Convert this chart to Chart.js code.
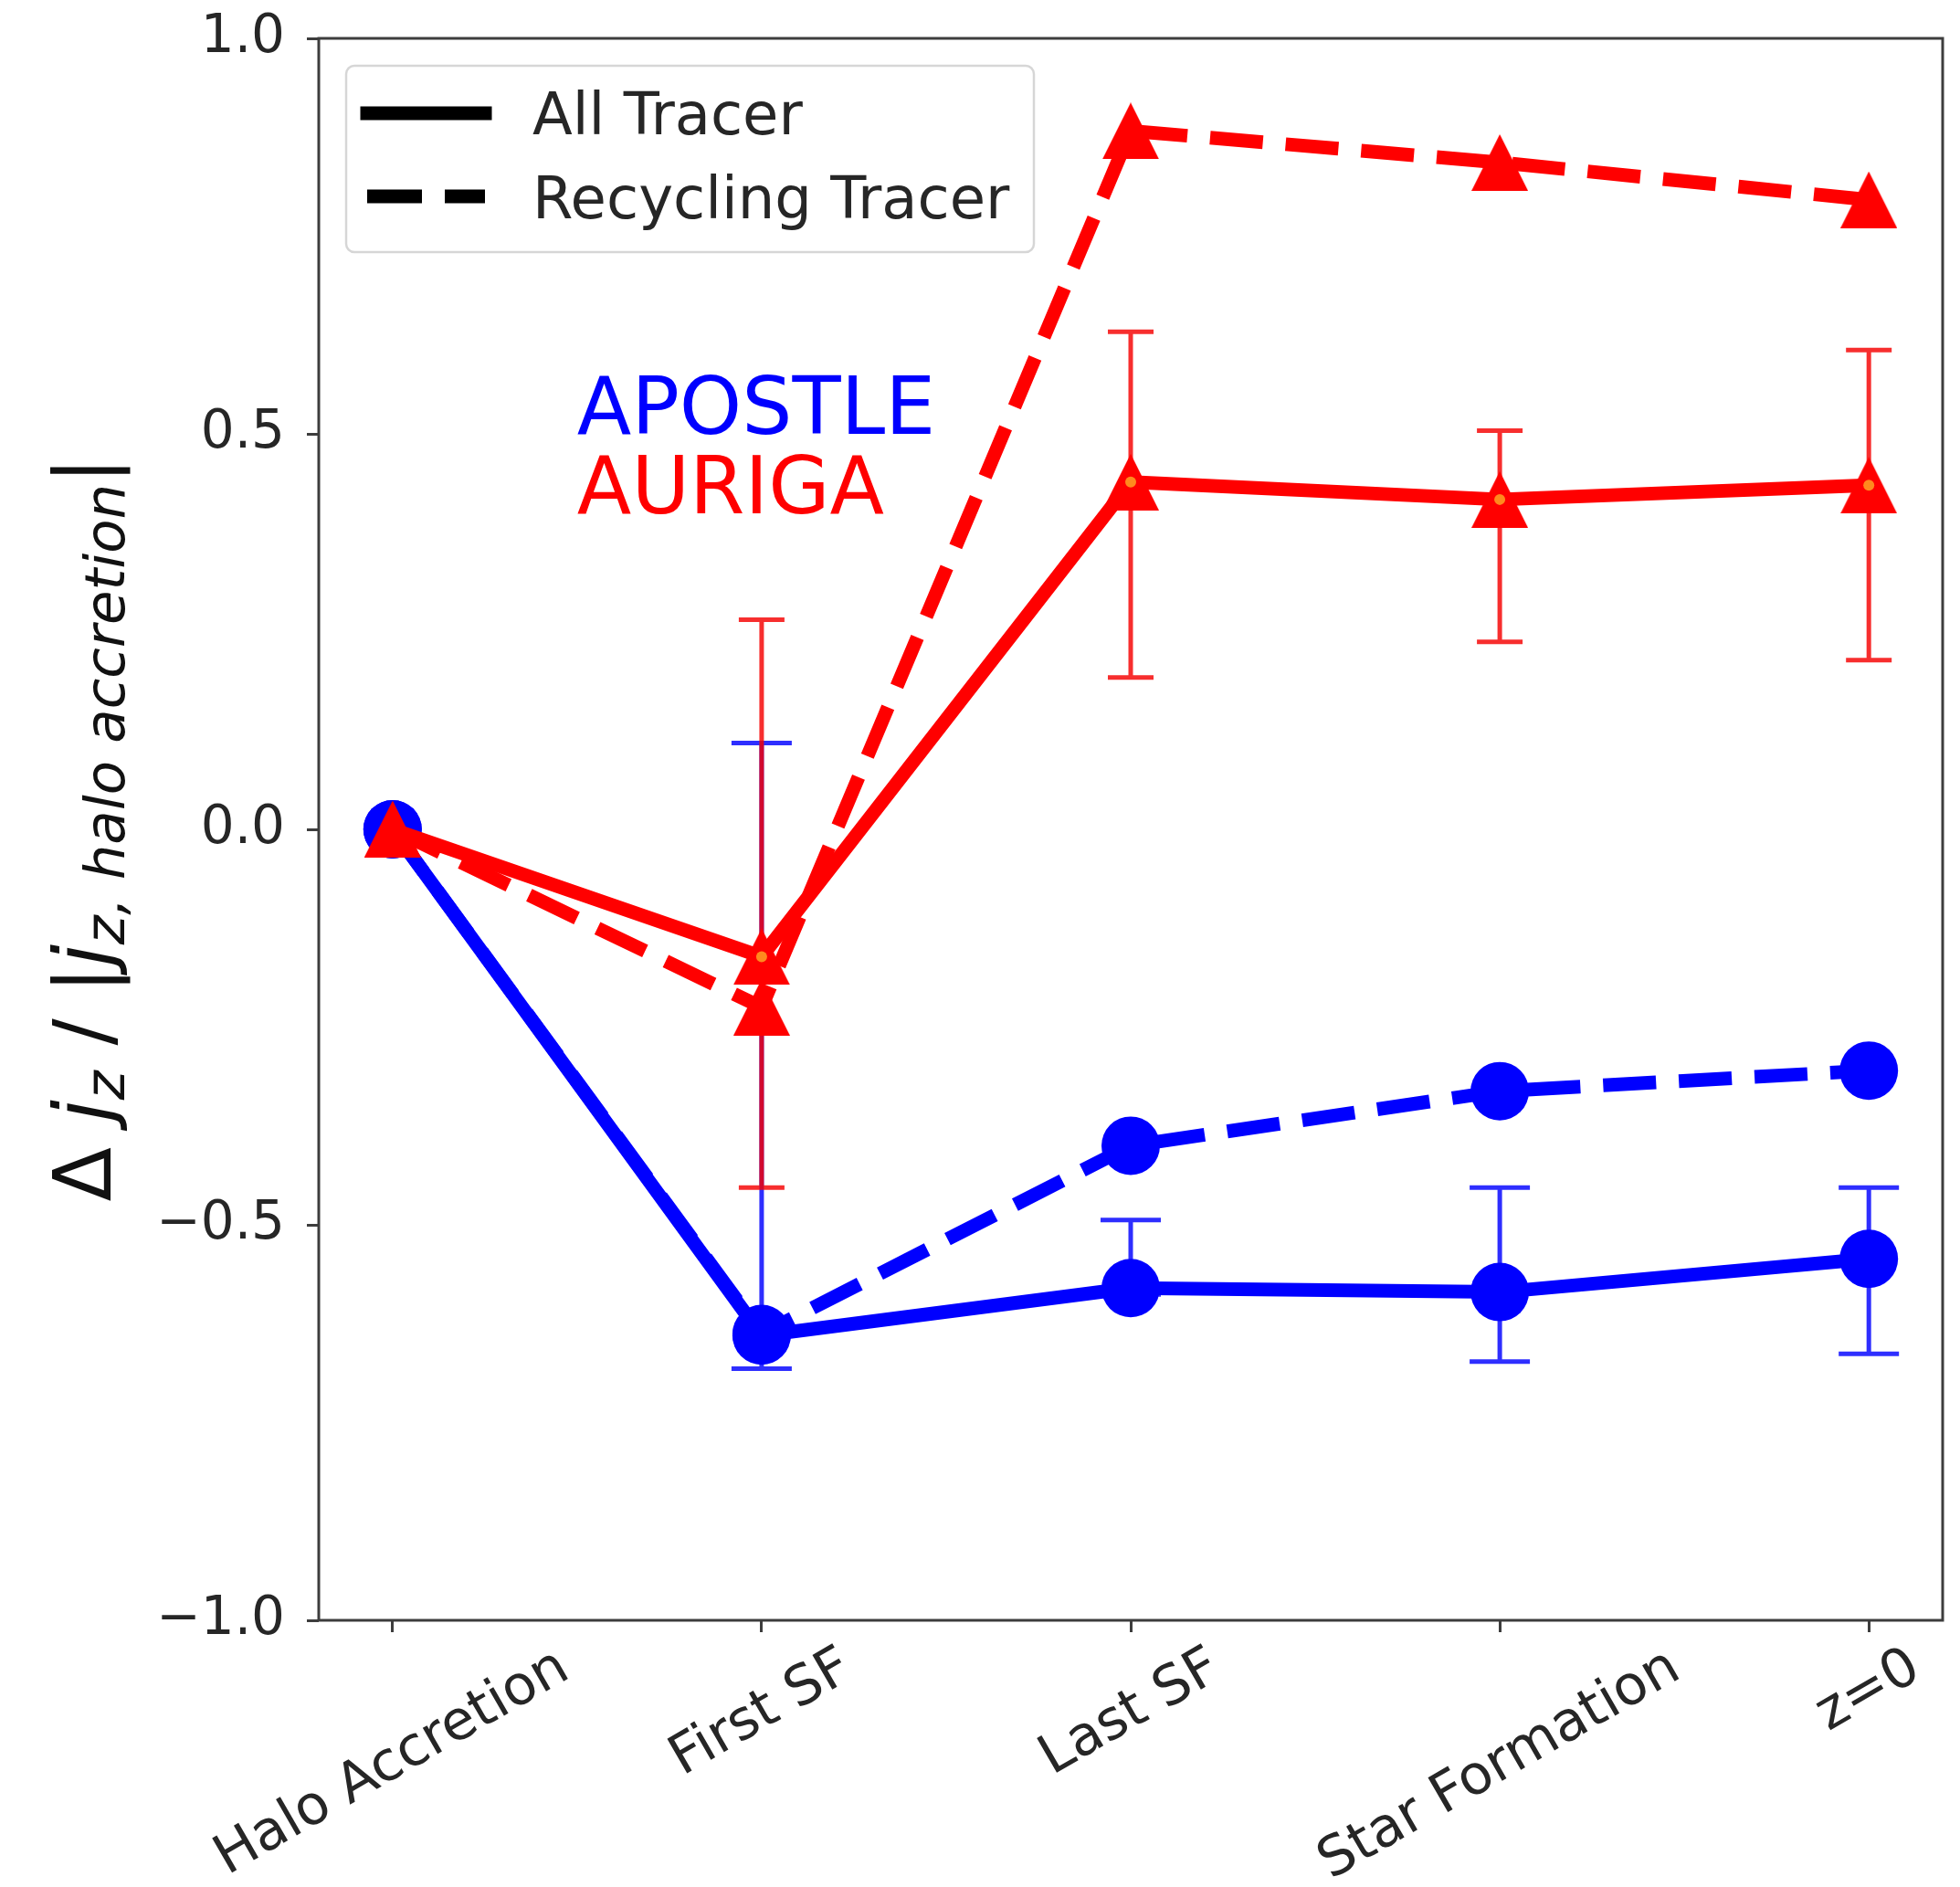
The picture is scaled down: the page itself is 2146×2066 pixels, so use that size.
<!DOCTYPE html>
<html>
<head>
<meta charset="utf-8">
<script src="https://cdn.jsdelivr.net/npm/chart.js@4.4.1/dist/chart.umd.min.js"></script>
<style>
  html, body { margin: 0; padding: 0; background: #ffffff; }
  canvas { display: block; }
</style>
</head>
<body>
<canvas id="c" width="2146" height="2066"></canvas>
<script>
// ---------------- data ----------------
const categories = ['Halo Accretion', 'First SF', 'Last SF', 'Star Formation', 'z=0'];

const apostleAll        = [0, -0.640, -0.580, -0.585, -0.543];
const apostleAllErrLow  = [null, -0.682, -0.588, -0.673, -0.663];
const apostleAllErrHigh = [null,  0.109, -0.494, -0.453, -0.453];
const apostleRecycling  = [0, -0.638, -0.400, -0.331, -0.305];

const aurigaAll         = [0, -0.161, 0.439, 0.417, 0.435];
const aurigaAllErrLow   = [null, -0.453, 0.192, 0.237, 0.214];
const aurigaAllErrHigh  = [null,  0.265, 0.629, 0.504, 0.606];
const aurigaRecycling   = [0, -0.225, 0.883, 0.843, 0.796];

const yTicks = [-1.0, -0.5, 0.0, 0.5, 1.0];
const legendLabels = ['All Tracer', 'Recycling Tracer'];
const simLabels = ['APOSTLE', 'AURIGA'];
const simLabelAnchors = [[0.5, 0.5], [0.5, 0.4]];   // data coords of the text anchors

// ---------------- styles ----------------
const BLUE = '#0000ff';
const RED = '#ff0000';
const ORANGE = '#ff8a1e';
const LW = 15;
const DASH = [58, 25];
const TEXT = '#262626';
const FONT = 'DejaVu Sans';

Chart.defaults.font.family = FONT;

function makeTriangle(size, color) {
  const c = document.createElement('canvas');
  c.width = size; c.height = size;
  const g = c.getContext('2d');
  g.fillStyle = color;
  g.beginPath();
  g.moveTo(size / 2, 0);
  g.lineTo(size, size);
  g.lineTo(0, size);
  g.closePath();
  g.fill();
  return c;
}
const redTriangle = makeTriangle(62, RED);

const pts = arr => arr.map((v, i) => ({ x: i, y: v }));
const aurigaDots = aurigaAll.map((v, i) => (i === 0 ? null : v));

function noPad(s) { s.paddingTop = 0; s.paddingBottom = 0; s.paddingLeft = 0; s.paddingRight = 0; }

// ---------------- plugins ----------------
const errorBarPlugin = {
  id: 'errorBars',
  beforeDatasetsDraw(chart) {
    const ctx = chart.ctx;
    const xs = chart.scales.x, ys = chart.scales.y;
    const sets = [
      { low: apostleAllErrLow, high: apostleAllErrHigh, color: 'rgba(0,0,255,0.82)', cap: 33 },
      { low: aurigaAllErrLow, high: aurigaAllErrHigh, color: 'rgba(245,0,0,0.82)', cap: 25 }
    ];
    ctx.save();
    ctx.lineWidth = 5;
    ctx.lineCap = 'butt';
    for (const s of sets) {
      ctx.strokeStyle = s.color;
      for (let i = 0; i < categories.length; i++) {
        if (s.low[i] === null || s.high[i] === null) continue;
        const x = xs.getPixelForValue(i);
        const y1 = ys.getPixelForValue(s.low[i]);
        const y2 = ys.getPixelForValue(s.high[i]);
        ctx.beginPath();
        ctx.moveTo(x, y1); ctx.lineTo(x, y2);
        ctx.moveTo(x - s.cap, y1); ctx.lineTo(x + s.cap, y1);
        ctx.moveTo(x - s.cap, y2); ctx.lineTo(x + s.cap, y2);
        ctx.stroke();
      }
    }
    ctx.restore();
  }
};

const annotationPlugin = {
  id: 'annotations',
  afterDatasetsDraw(chart) {
    const ctx = chart.ctx;
    const xs = chart.scales.x, ys = chart.scales.y;
    ctx.save();
    ctx.font = '87px "' + FONT + '"';
    ctx.textAlign = 'left';
    ctx.textBaseline = 'alphabetic';
    const cols = [BLUE, RED];
    simLabels.forEach((t, i) => {
      ctx.fillStyle = cols[i];
      ctx.fillText(t, xs.getPixelForValue(simLabelAnchors[i][0]), ys.getPixelForValue(simLabelAnchors[i][1]));
    });
    ctx.restore();
  }
};

const framePlugin = {
  id: 'frameAndLabels',
  afterDraw(chart) {
    const ctx = chart.ctx;
    const a = chart.chartArea;
    const xs = chart.scales.x;
    ctx.save();
    // spines
    ctx.strokeStyle = '#3d3d3d';
    ctx.lineWidth = 3;
    ctx.strokeRect(a.left, a.top, a.right - a.left, a.bottom - a.top);

    // rotated x tick labels (centred on ticks)
    ctx.fillStyle = TEXT;
    ctx.font = '60px "' + FONT + '"';
    ctx.textAlign = 'center';
    ctx.textBaseline = 'middle';
    const ang = 30 * Math.PI / 180;
    categories.forEach((c, i) => {
      const w = ctx.measureText(c).width;
      const cx = xs.getPixelForValue(i);
      const cy = a.bottom + 48 + (w / 2) * Math.sin(ang);
      ctx.save();
      ctx.translate(cx, cy);
      ctx.rotate(-ang);
      ctx.fillText(c, 0, 0);
      ctx.restore();
    });

    // y axis label (mathtext-like)
    const main = 87, sub = 61, drop = 15;
    const pieces = [
      { t: '\u0394', f: 'normal ' + main + 'px "' + FONT + '"', dy: 0 },
      { t: ' ', f: 'normal ' + main + 'px "' + FONT + '"', dy: 0 },
      { t: 'j', f: 'italic ' + main + 'px "' + FONT + '"', dy: 0 },
      { t: 'z', f: 'italic ' + sub + 'px "' + FONT + '"', dy: drop },
      { t: ' / ', f: 'normal ' + main + 'px "' + FONT + '"', dy: 0 },
      { t: '|', f: 'normal ' + main + 'px "' + FONT + '"', dy: 0 },
      { t: 'j', f: 'italic ' + main + 'px "' + FONT + '"', dy: 0 },
      { t: 'z, halo accretion', f: 'italic ' + sub + 'px "' + FONT + '"', dy: drop },
      { t: '|', f: 'normal ' + main + 'px "' + FONT + '"', dy: 0 }
    ];
    let total = 0;
    pieces.forEach(p => { ctx.font = p.f; p.w = ctx.measureText(p.t).width; total += p.w; });
    ctx.save();
    ctx.translate(121, (a.top + a.bottom) / 2);
    ctx.rotate(-Math.PI / 2);
    ctx.fillStyle = '#111111';
    ctx.textAlign = 'left';
    ctx.textBaseline = 'alphabetic';
    let px = -total / 2;
    pieces.forEach(p => { ctx.font = p.f; ctx.fillText(p.t, px, p.dy); px += p.w; });
    ctx.restore();

    // legend
    const lx = 379, ly = 72, lw = 1132 - 379, lh = 276 - 72, r = 9;
    ctx.beginPath();
    ctx.moveTo(lx + r, ly);
    ctx.arcTo(lx + lw, ly, lx + lw, ly + lh, r);
    ctx.arcTo(lx + lw, ly + lh, lx, ly + lh, r);
    ctx.arcTo(lx, ly + lh, lx, ly, r);
    ctx.arcTo(lx, ly, lx + lw, ly, r);
    ctx.closePath();
    ctx.fillStyle = 'rgba(255,255,255,0.85)';
    ctx.fill();
    ctx.strokeStyle = '#d6d6d6';
    ctx.lineWidth = 2.5;
    ctx.stroke();

    ctx.strokeStyle = '#000000';
    ctx.lineWidth = LW;
    // solid sample
    ctx.lineCap = 'square';
    ctx.setLineDash([]);
    ctx.beginPath(); ctx.moveTo(402, 124); ctx.lineTo(531, 124); ctx.stroke();
    // dashed sample
    ctx.lineCap = 'butt';
    ctx.setLineDash([60, 25]);
    ctx.beginPath(); ctx.moveTo(402, 215); ctx.lineTo(531, 215); ctx.stroke();
    ctx.setLineDash([]);

    ctx.fillStyle = TEXT;
    ctx.font = '64px "' + FONT + '"';
    ctx.textAlign = 'left';
    ctx.textBaseline = 'alphabetic';
    ctx.fillText(legendLabels[0], 583, 147);
    ctx.fillText(legendLabels[1], 583, 239);
    ctx.restore();
  }
};

// ---------------- chart ----------------
new Chart(document.getElementById('c'), {
  type: 'line',
  data: {
    datasets: [
      { label: 'AURIGA centre', data: pts(aurigaDots), showLine: false,
        pointRadius: 6, pointBackgroundColor: ORANGE, pointBorderWidth: 0, order: 0 },
      { label: 'AURIGA ' + legendLabels[0], data: pts(aurigaAll), borderColor: RED, borderWidth: LW,
        borderJoinStyle: 'round', borderCapStyle: 'butt', pointStyle: redTriangle, pointRadius: 31,
        pointBackgroundColor: RED, pointBorderWidth: 0, order: 1 },
      { label: 'AURIGA ' + legendLabels[1], data: pts(aurigaRecycling), borderColor: RED, borderWidth: LW,
        borderDash: DASH, borderJoinStyle: 'round', borderCapStyle: 'butt', pointStyle: redTriangle, pointRadius: 31,
        pointBackgroundColor: RED, pointBorderWidth: 0, order: 2 },
      { label: 'APOSTLE ' + legendLabels[0], data: pts(apostleAll), borderColor: BLUE, borderWidth: LW,
        borderJoinStyle: 'round', borderCapStyle: 'butt', pointStyle: 'circle', pointRadius: 32,
        pointBackgroundColor: BLUE, pointBorderWidth: 0, order: 3 },
      { label: 'APOSTLE ' + legendLabels[1], data: pts(apostleRecycling), borderColor: BLUE, borderWidth: LW,
        borderDash: DASH, borderJoinStyle: 'round', borderCapStyle: 'butt', pointStyle: 'circle', pointRadius: 32,
        pointBackgroundColor: BLUE, pointBorderWidth: 0, order: 4 }
    ]
  },
  options: {
    responsive: false,
    animation: false,
    devicePixelRatio: 1,
    events: [],
    layout: { autoPadding: false, padding: { top: 42, right: 19, bottom: 0, left: 0 } },
    plugins: { legend: { display: false }, tooltip: { enabled: false } },
    elements: { line: { tension: 0 } },
    scales: {
      x: {
        type: 'linear', min: -0.2, max: 4.2,
        afterBuildTicks: s => { s.ticks = categories.map((c, i) => ({ value: i })); },
        ticks: { display: false },
        grid: { drawOnChartArea: false, drawTicks: true, tickLength: 13, tickWidth: 3, tickColor: '#3d3d3d' },
        border: { display: false },
        afterFit: s => { s.height = 292; noPad(s); }
      },
      y: {
        type: 'linear', min: -1, max: 1,
        afterBuildTicks: s => { s.ticks = yTicks.map(v => ({ value: v })); },
        ticks: {
          font: { family: FONT, size: 58 }, color: TEXT, padding: 24,
          callback: v => Number(v).toFixed(1).replace('-', '\u2212')
        },
        grid: { drawOnChartArea: false, drawTicks: true, tickLength: 13, tickWidth: 3, tickColor: '#3d3d3d' },
        border: { display: false },
        afterFit: s => { s.width = 349; noPad(s); }
      }
    }
  },
  plugins: [errorBarPlugin, annotationPlugin, framePlugin]
});
</script>
</body>
</html>
